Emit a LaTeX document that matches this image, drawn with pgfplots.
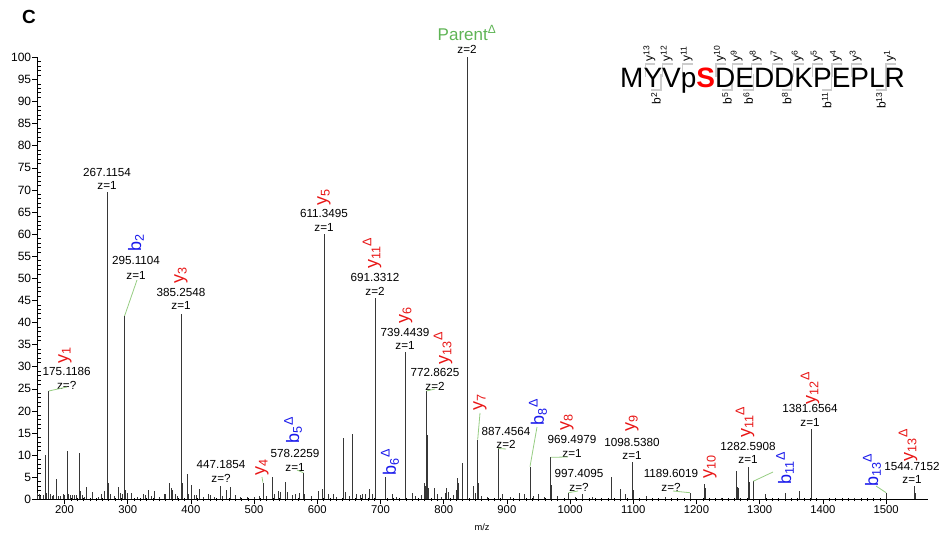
\documentclass[border=0pt]{standalone}
\usepackage{fontspec}
\setmainfont{Liberation Sans}
\usepackage{pgfplots}
\pgfplotsset{compat=1.18}
\usepackage{pgfplotstable}
\definecolor{ionred}{RGB}{232,22,22}
\definecolor{ionblue}{RGB}{25,25,235}
\definecolor{pargreen}{RGB}{95,180,85}
\definecolor{leadgreen}{RGB}{150,205,130}
\definecolor{peakgray}{RGB}{55,55,55}

\pgfplotstableread{
mz I
157.5 1.5
159.5 1.2
161 0.8
166 0.9
169 10
171.5 1.5
175.1186 24.5
177 1.2
180 0.8
183 0.9
186.5 4.5
187.5 2
190 0.8
193 0.7
198 1.2
200.5 1.0
204.5 10.9
206 1.2
210 1
213 0.9
216 0.9
219 1
223 10.4
224.5 1.8
228 1.0
231 0.6
235 2.7
244.5 1.7
253 0.6
259 1.3
263 1.8
267.1154 69.5
268 4.3
270 3.8
272 1.2
279 0.8
284.6 2.7
289 1.5
292 1.2
295.1104 41.5
296 2
299 1.5
305 1.5
315 0.6
324 1.3
328 1.0
332.6 2.2
338 0.8
342 1.8
350 0.5
358 1.2
360 1.2
366.5 3.6
368.5 2.5
371 2
375 1.2
379 0.8
385.2548 42
386 3.7
394.4 5.7
396 1.2
401 3.2
405 1
409 1
412.8 2.4
420 0.6
428 1.2
430 1.0
437 0.6
447.1854 3
450 0.8
456.6 2.2
463 2.7
470 1.0
478 0.5
489 0.6
500 0.5
508 0.8
514 3.8
520 0.8
528.3 5.1
532 1.2
538 1.8
542 1.6
549.4 3.9
552 1.6
560 0.9
565 1.3
572 1.5
578.2259 6
580 1.2
590 0.8
601.6 1.8
608 2.3
611.3495 60
611.9 6.6
617 1.3
626 1.1
630 0.6
641.2 13.8
641.8 7
644 1.6
650 0.8
655.4 14.8
656 6.8
661 1.2
668 1.0
672 1.2
676 1.1
681.8 2.3
687 1.2
691.3312 45.5
707 5.0
708 1.5
718 1.2
725 0.6
739.4439 33.3
740 7.5
750 1.5
755 0.8
765 1.0
770 3.6
771 3.0
772.8625 24.5
773.4 14.5
776 2.5
785.8 2.5
790 1.2
797 0.6
803 1.4
804.8 2.5
808 1.7
815 1.0
820 2.2
821.5 4.9
823 3.8
829.4 8.1
837.3 100
837.8 75.5
846.4 3
850 1.5
853.8 13.5
854.4 3.6
860 0.7
869 0.5
886.4 11.5
887 5.3
893 1.2
905 0.6
919 1.5
927 1.2
936.6 7.4
937.2 2.2
942 0.8
949.7 1.2
960 0.6
969.4979 9.5
970 3.3
980 0.7
997.4095 1.5
1008 0.5
1020 1.2
1035 0.5
1064.7 5
1065.5 1.3
1080 2.3
1087 1.2
1098.538 8.5
1099.3 2
1100.5 1.3
1120 0.7
1150 0.5
1189.6019 1.5
1212.3 3.5
1213.5 2.5
1240 0.4
1263.6 6.5
1264.2 2.8
1265.5 2.5
1282.5908 7.4
1283.2 3.9
1290 4.1
1309.5 1.3
1340 1.5
1341 1
1362 1.9
1381.6564 16
1450 0.3
1500 1.5
1501 1
1544.7152 2.9
1545.5 1.5
}\peaks

\newcommand{\numfont}{\fontsize{11.7}{13}\selectfont}
\newcommand{\ionfont}{\fontsize{18}{18}\selectfont}
\newcommand{\seqfont}{\fontsize{12}{12}\selectfont}
\newcommand{\fragsup}[1]{\raisebox{0.55ex}{\fontsize{8.5}{8.5}\selectfont #1}}
\newcommand{\numlab}[3]{\node[font=\numfont, inner sep=0pt] at (#1,#2) {#3};}
\newcommand{\ionlab}[4]{\node[rotate=90, text=#4, font=\ionfont, inner sep=0pt] at (#1,#2) {#3};}
\newcommand{\lead}[4]{\draw[leadgreen, line width=0.8pt] (#1,#2) -- (#3,#4);}
\newcommand{\yfrag}[2]{%
  \draw[gray!40, line width=1.4pt] (#1-4,77) -- (#1-4,64) -- (#1+6,64);
  \node[rotate=90, anchor=west, font=\seqfont, inner sep=0pt] at (#1,61.5) {y\fragsup{#2}};}
\newcommand{\bfrag}[2]{%
  \draw[gray!40, line width=1.4pt] (#1+5,74) -- (#1+5,90) -- (#1-5,90);
  \node[rotate=90, anchor=east, font=\seqfont, inner sep=0pt] at (#1,92.5) {b\fragsup{#2}};}

\begin{document}
\begin{tikzpicture}
\begin{axis}[
  at={(0pt,0pt)}, anchor=south west,
  x=0.632pt, y=4.42pt,
  xmin=157, xmax=1567, ymin=0, ymax=100,
  axis lines*=left,
  axis line style={black, line width=0.6pt, -},
  xtick={200,300,...,1500}, minor x tick num=9,
  ytick={0,5,...,100}, minor y tick num=4,
  tick align=outside,
  major tick length=5pt, minor tick length=3.5pt,
  tick style={black, line width=0.5pt},
  minor y tick style={xshift=3.5pt},
  minor x tick style={yshift=1.75pt},
  xticklabel style={font=\fontsize{11.3}{12}\selectfont, inner sep=1pt},
  yticklabel style={font=\fontsize{12}{13}\selectfont, inner sep=1pt},
  /pgf/number format/assume math mode=true,
  /pgf/number format/1000 sep={},
  clip=false,
]
\addplot[ycomb, no marks, draw=peakgray, line width=0.65pt] table[x=mz, y=I] {\peaks};
\end{axis}

\begin{scope}[x=1pt, y=-1pt, shift={(-37.3,-499.3)}]
  \path (0,0) rectangle (941,537);
  % panel letter and axis label
  \node[font=\fontsize{19}{19}\selectfont\bfseries, inner sep=0pt] at (29,17) {C};
  \node[font=\fontsize{9.3}{10}\selectfont, inner sep=0pt] at (482,527) {m/z};

  % parent
  \node[text=pargreen, font=\fontsize{17}{17}\selectfont, inner sep=0pt] at (467,33) {Parent\textsuperscript{Δ}};
  \numlab{467}{49}{z=2}

  % ion labels
  \ionlab{65}{355}{y\textsubscript{1}}{ionred}
  \ionlab{136}{243}{b\textsubscript{2}}{ionblue}
  \ionlab{181}{275}{y\textsubscript{3}}{ionred}
  \ionlab{262}{467}{y\textsubscript{4}}{ionred}
  \ionlab{293}{430}{b\textsubscript{5}\textsuperscript{Δ}}{ionblue}
  \ionlab{324}{197}{y\textsubscript{5}}{ionred}
  \ionlab{372}{253}{y\textsubscript{11}\textsuperscript{Δ}}{ionred}
  \ionlab{390}{462}{b\textsubscript{6}\textsuperscript{Δ}}{ionblue}
  \ionlab{405.7}{315}{y\textsubscript{6}}{ionred}
  \ionlab{443}{348}{y\textsubscript{13}\textsuperscript{Δ}}{ionred}
  \ionlab{480}{402}{y\textsubscript{7}}{ionred}
  \ionlab{538}{412}{b\textsubscript{8}\textsuperscript{Δ}}{ionblue}
  \ionlab{567}{422}{y\textsubscript{8}}{ionred}
  \ionlab{632}{423}{y\textsubscript{9}}{ionred}
  \ionlab{710}{467}{y\textsubscript{10}}{ionred}
  \ionlab{745}{422}{y\textsubscript{11}\textsuperscript{Δ}}{ionred}
  \ionlab{785}{468}{b\textsubscript{11}\textsuperscript{Δ}}{ionblue}
  \ionlab{810}{388}{y\textsubscript{12}\textsuperscript{Δ}}{ionred}
  \ionlab{872}{470}{b\textsubscript{13}\textsuperscript{Δ}}{ionblue}
  \ionlab{908}{445}{y\textsubscript{13}\textsuperscript{Δ}}{ionred}

  % m/z and charge labels
  \numlab{66.7}{371}{175.1186}\numlab{66.7}{385}{z=?}
  \numlab{107}{172}{267.1154}\numlab{107}{185}{z=1}
  \numlab{136}{260}{295.1104}\numlab{136}{275}{z=1}
  \numlab{181}{292}{385.2548}\numlab{181}{305}{z=1}
  \numlab{221}{464}{447.1854}\numlab{221}{478}{z=?}
  \numlab{295}{453}{578.2259}\numlab{295}{467}{z=1}
  \numlab{324}{213}{611.3495}\numlab{324}{227}{z=1}
  \numlab{375}{277}{691.3312}\numlab{375}{291}{z=2}
  \numlab{405}{332}{739.4439}\numlab{405}{345}{z=1}
  \numlab{435}{372}{772.8625}\numlab{435}{386}{z=2}
  \numlab{506}{431}{887.4564}\numlab{506}{444}{z=2}
  \numlab{572}{439}{969.4979}\numlab{572}{453}{z=1}
  \numlab{579}{473}{997.4095}\numlab{579}{487}{z=?}
  \numlab{632}{442}{1098.5380}\numlab{632}{455}{z=1}
  \numlab{671}{473}{1189.6019}\numlab{671}{487}{z=?}
  \numlab{748}{446}{1282.5908}\numlab{748}{459}{z=1}
  \numlab{810}{408}{1381.6564}\numlab{810}{422}{z=1}
  \numlab{912}{466}{1544.7152}\numlab{912}{479}{z=1}

  % leader lines
  \lead{48.8}{391}{67}{387}
  \lead{124.6}{315.9}{137}{280}
  \lead{262.9}{482.5}{262}{477}
  \lead{303.5}{472.8}{297}{470}
  \lead{426.5}{391}{435}{389}
  \lead{477.7}{439.6}{480}{413}
  \lead{498.3}{448.5}{506}{449}
  \lead{530}{466.6}{537}{427}
  \lead{550.8}{457.3}{568}{457}
  \lead{568.4}{492.7}{578}{491}
  \lead{689.9}{492.7}{673}{491}
  \lead{753.4}{481.2}{773}{472}
  \lead{886.1}{492.7}{876}{486}

  % sequence
  \yfrag{649.3}{13}\yfrag{666.7}{12}\yfrag{686.7}{11}\yfrag{720}{10}
  \yfrag{736.7}{9}\yfrag{755.7}{8}\yfrag{776.7}{7}\yfrag{797.7}{6}
  \yfrag{816.7}{5}\yfrag{836}{4}\yfrag{855.7}{3}\yfrag{890}{1}
  \bfrag{656}{2}\bfrag{727}{5}\bfrag{748.3}{6}\bfrag{786.7}{8}
  \bfrag{826.7}{11}\bfrag{881}{13}
  \node[anchor=base west, inner sep=0pt, font=\fontsize{28}{28}\selectfont] at (620,88)
    {MYVp{\color{red}\bfseries S}DEDDKPEPLR};
\end{scope}
\end{tikzpicture}
\end{document}
